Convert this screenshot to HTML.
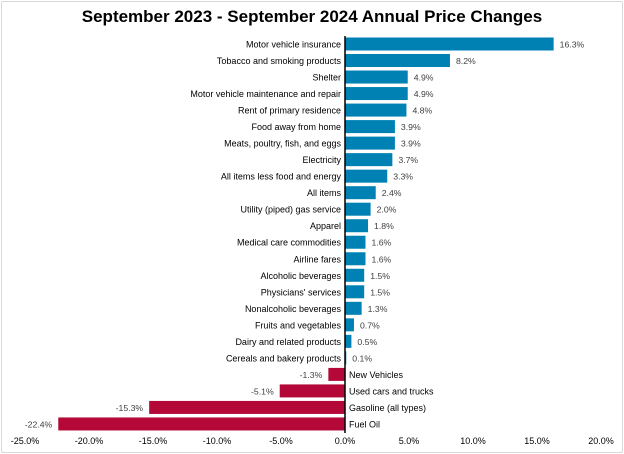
<!DOCTYPE html>
<html><head><meta charset="utf-8"><style>
body{margin:0;background:#fff;}
#wrap{position:relative;width:624px;height:454px;overflow:hidden;font-family:"Liberation Sans",Arial,sans-serif;}
#frame{position:absolute;left:1px;top:1px;width:620px;height:450px;border:1px solid #d9d9d9;border-radius:2px;}
#title{position:absolute;left:0;top:7px;width:624px;text-align:center;font-size:17px;font-weight:bold;color:#000;}
</style></head><body>
<div id="wrap">
<div id="frame"></div>
<div id="title">September 2023 - September 2024 Annual Price Changes</div>
<svg id="svg" width="624" height="454" style="position:absolute;left:0;top:0"></svg>
</div>
<script>
const categories=["Motor vehicle insurance","Tobacco and smoking products","Shelter","Motor vehicle maintenance and repair","Rent of primary residence","Food away from home","Meats, poultry, fish, and eggs","Electricity","All items less food and energy","All items","Utility (piped) gas service","Apparel","Medical care commodities","Airline fares","Alcoholic beverages","Physicians' services","Nonalcoholic beverages","Fruits and vegetables","Dairy and related products","Cereals and bakery products","New Vehicles","Used cars and trucks","Gasoline (all types)","Fuel Oil"];
const values=[16.3,8.2,4.9,4.9,4.8,3.9,3.9,3.7,3.3,2.4,2.0,1.8,1.6,1.6,1.5,1.5,1.3,0.7,0.5,0.1,-1.3,-5.1,-15.3,-22.4];
const ticks=[-25,-20,-15,-10,-5,0,5,10,15,20];
const NS="http://www.w3.org/2000/svg";
const svg=document.getElementById('svg');
const x=v=>345+v*12.8;
const y=i=>44+i*16.52;
function mk(t,a){const e=document.createElementNS(NS,t);for(const k in a)e.setAttribute(k,a[k]);svg.appendChild(e);return e;}
categories.forEach((c,i)=>{
  const v=values[i];
  const r=mk('rect',{x:Math.min(x(0),x(v)),y:y(i)-6.5,width:Math.abs(x(v)-x(0)),height:13,fill:v>=0?'#0081b4':'#b30838'});
  
  
  const lb=mk('text',{x:v>=0?x(0)-4:x(0)+4,y:y(i)+3.5,'font-size':'9','text-anchor':v>=0?'end':'start',fill:'#000','font-family':'Liberation Sans, sans-serif'});
  lb.textContent=c;
  
  
  const vl=mk('text',{x:v>=0?x(v)+6:x(v)-6,y:y(i)+3.5,'font-size':'8.7','text-anchor':v>=0?'start':'end',fill:'#404040','font-family':'Liberation Sans, sans-serif'});
  vl.textContent=v.toFixed(1)+'%';
  
  
});
const ax=mk('line',{x1:x(0),x2:x(0),y1:36,y2:433,stroke:'#000','stroke-width':1.5});


ticks.forEach(t=>{
  const e=mk('text',{x:x(t),y:444,'font-size':'9','text-anchor':'middle',fill:'#000','font-family':'Liberation Sans, sans-serif'});
  e.textContent=t.toFixed(1)+'%';
  
  
});
</script>
</body></html>
